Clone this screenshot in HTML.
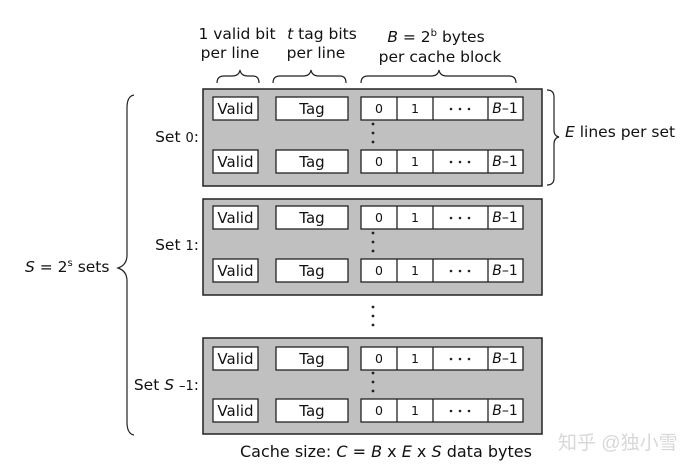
<!DOCTYPE html>
<html><head><meta charset="utf-8"><style>
html,body{margin:0;padding:0;background:#fff;}
svg{display:block;font-family:"DejaVu Sans","Liberation Sans",sans-serif;}
</style></head><body>
<svg width="690" height="472" viewBox="0 0 690 472" xmlns="http://www.w3.org/2000/svg">
<g font-size="15.5" fill="#111">
<text x="237" y="39" text-anchor="middle">1 valid bit</text>
<text x="230" y="58" text-anchor="middle">per line</text>
<text x="322" y="39" text-anchor="middle"><tspan font-style="italic">t</tspan> tag bits</text>
<text x="316" y="58" text-anchor="middle">per line</text>
<text x="436" y="42" text-anchor="middle"><tspan font-style="italic">B</tspan> = 2<tspan font-size="10" dy="-6">b</tspan><tspan dy="6"> bytes</tspan></text>
<text x="440" y="62" text-anchor="middle">per cache block</text>
</g>
<g fill="none" stroke="#222" stroke-width="1.2">
<path d="M217,83 Q217,76 224,76 L232,76 Q239,76 240,70 Q241,76 248,76 L253,76 Q259,76 259,83"/>
<path d="M273,83 Q273,76 280,76 L303,76 Q310,76 311,70 Q312,76 319,76 L340,76 Q346,76 346,83"/>
<path d="M361,83 Q361,76 368,76 L431,76 Q438,76 439,70 Q440,76 447,76 L509,76 Q516,76 516,83"/>
<path d="M547,90 Q554,90 554,97 L554,130 Q554,136 559,137 Q554,138 554,144 L554,178 Q554,185 547,185"/>
<path d="M134,95 Q127,96 127,108 L127,255 Q127,265 118,268 Q127,271 127,281 L127,422 Q127,434 134,435"/>
</g>
<text x="565" y="137" font-size="15.5" fill="#111"><tspan font-style="italic">E</tspan>  lines per set</text>
<text x="25" y="272" font-size="15.5" fill="#111"><tspan font-style="italic">S</tspan> = 2<tspan font-size="10" dy="-6">s</tspan><tspan dy="6"> sets</tspan></text>
<g font-size="15.5" fill="#111" text-anchor="end">
<text x="199" y="142">Set <tspan font-size="13">0</tspan>:</text>
<text x="199" y="250">Set <tspan font-size="13">1</tspan>:</text>
<text x="199" y="390">Set <tspan font-style="italic">S</tspan> <tspan font-size="13">–1</tspan>:</text>
</g>
<defs>
<g id="row">
<rect x="213" y="0" width="45" height="23" fill="#fff" stroke="#222" stroke-width="1.3"/>
<rect x="276" y="0" width="72" height="23" fill="#fff" stroke="#222" stroke-width="1.3"/>
<rect x="361" y="0" width="162" height="23" fill="#fff" stroke="#222" stroke-width="1.3"/>
<path d="M397,0V23M433,0V23M488,0V23" stroke="#222" stroke-width="1.3"/>
<circle cx="451" cy="12" r="1.3" fill="#222"/><circle cx="460" cy="12" r="1.3" fill="#222"/><circle cx="469" cy="12" r="1.3" fill="#222"/>
</g>
<g id="dots"><circle cx="373" cy="0" r="1.4" fill="#222"/><circle cx="373" cy="9" r="1.4" fill="#222"/><circle cx="373" cy="18" r="1.4" fill="#222"/></g>
</defs>
<rect x="203" y="89" width="339" height="97" fill="#c0c0c0" stroke="#222" stroke-width="1.5"/>
<rect x="203" y="199" width="339" height="96" fill="#c0c0c0" stroke="#222" stroke-width="1.5"/>
<rect x="203" y="338" width="339" height="96" fill="#c0c0c0" stroke="#222" stroke-width="1.5"/>
<use href="#row" y="97"/><use href="#row" y="150"/>
<use href="#row" y="206"/><use href="#row" y="259"/>
<use href="#row" y="347"/><use href="#row" y="399"/>
<use href="#dots" y="124"/><use href="#dots" y="233"/><use href="#dots" y="373"/>
<use href="#dots" y="307"/>
<g font-size="15" fill="#111" text-anchor="middle">
<text x="235.5" y="114">Valid</text><text x="312" y="114">Tag</text><text x="379" y="113" font-size="12.5">0</text><text x="415" y="113" font-size="12.5">1</text><text x="505" y="113" font-size="14"><tspan font-style="italic">B</tspan>–1</text>
<text x="235.5" y="167">Valid</text><text x="312" y="167">Tag</text><text x="379" y="166" font-size="12.5">0</text><text x="415" y="166" font-size="12.5">1</text><text x="505" y="166" font-size="14"><tspan font-style="italic">B</tspan>–1</text>
<text x="235.5" y="223">Valid</text><text x="312" y="223">Tag</text><text x="379" y="222" font-size="12.5">0</text><text x="415" y="222" font-size="12.5">1</text><text x="505" y="222" font-size="14"><tspan font-style="italic">B</tspan>–1</text>
<text x="235.5" y="276">Valid</text><text x="312" y="276">Tag</text><text x="379" y="275" font-size="12.5">0</text><text x="415" y="275" font-size="12.5">1</text><text x="505" y="275" font-size="14"><tspan font-style="italic">B</tspan>–1</text>
<text x="235.5" y="364">Valid</text><text x="312" y="364">Tag</text><text x="379" y="363" font-size="12.5">0</text><text x="415" y="363" font-size="12.5">1</text><text x="505" y="363" font-size="14"><tspan font-style="italic">B</tspan>–1</text>
<text x="235.5" y="416">Valid</text><text x="312" y="416">Tag</text><text x="379" y="415" font-size="12.5">0</text><text x="415" y="415" font-size="12.5">1</text><text x="505" y="415" font-size="14"><tspan font-style="italic">B</tspan>–1</text>
</g>
<text x="240" y="457" font-size="16" fill="#111">Cache size:  <tspan font-style="italic">C</tspan> = <tspan font-style="italic">B</tspan> x <tspan font-style="italic">E</tspan> x <tspan font-style="italic">S</tspan> data bytes</text>
<text x="558" y="449" font-size="19" fill="#d8d8d8" font-family="'Liberation Sans','Noto Sans CJK SC',sans-serif">知乎 @独小雪</text>
</svg>
</body></html>
